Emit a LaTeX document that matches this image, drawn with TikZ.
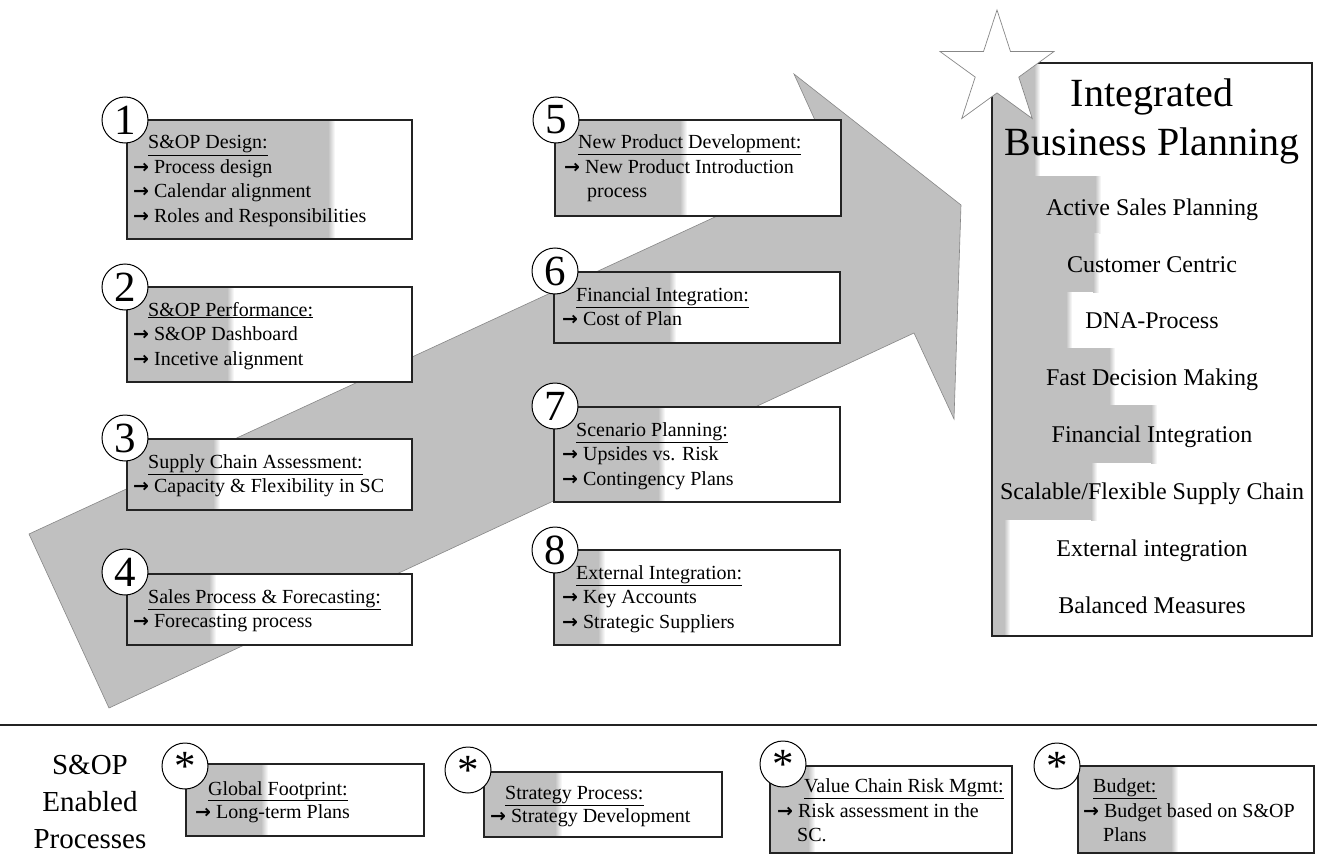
\documentclass[tikz,border=0pt]{standalone}
\usepackage{fontspec}
\setmainfont{Liberation Serif}
\newfontfamily\arrfont{DejaVu Sans}
\newcommand\rarr{{\arrfont\bfseries\fontsize{19}{20}\selectfont →}\hspace{5pt}}
\usetikzlibrary{shapes.geometric}
\definecolor{agray}{RGB}{192,192,192}
\definecolor{aedge}{RGB}{135,135,135}
\definecolor{bline}{RGB}{35,35,35}
\tikzset{
  boxframe/.style={draw=bline, line width=1.3pt},
  numc/.style={circle, draw=black, line width=1pt, fill=white, minimum size=46pt, inner sep=0pt, font=\fontsize{43}{43}\selectfont},
  txt/.style={anchor=base west, inner sep=0pt, font=\fontsize{20}{24}\selectfont},
  ibp/.style={anchor=base, inner sep=0pt, font=\fontsize{24}{28}\selectfont},
  ibpbig/.style={anchor=base, inner sep=0pt, font=\fontsize{40}{48}\selectfont},
  side/.style={anchor=base, inner sep=0pt, font=\fontsize{29}{36}\selectfont},
}
\newcommand\gbox[5]{%
  \fill[white] (#1,#2) rectangle (#3,#4);
  \fill[agray] (#1,#2) rectangle ({#5-4},#4);
  \shade[left color=agray, right color=white] ({#5-4},#2) rectangle ({#5+3},#4);
  \draw[boxframe] (#1,#2) rectangle (#3,#4);
}
\newcommand\stairrow[3]{%
  \fill[agray] (992,#1) rectangle ({#3-4},#2);
  \shade[left color=agray, right color=white] ({#3-4},#1) rectangle ({#3+2},#2);
}
\begin{document}
\begin{tikzpicture}[x=1pt,y=-1pt]
\useasboundingbox (0,0) rectangle (1317,856);
\fill[white] (0,0) rectangle (1317,856);

% big arrow
\filldraw[fill=agray, draw=aedge, line width=0.6pt]
  (29,534) -- (834,162) -- (794,74) -- (961,205) -- (954,419) -- (914,333) -- (109,708) -- cycle;

% left column
\gbox{127}{120}{412}{239}{332}
\node[txt] (t1a) at (148,149) {\underline{S\&OP Design:}};
\node[txt] (t1b) at (133,173) {\rarr Process design};
\node[txt] (t1c) at (133,197.5) {\rarr Calendar alignment};
\node[txt] (t1d) at (133,222) {\rarr Roles and Responsibilities};

\gbox{127}{287}{412}{382}{231}
\node[txt] (t2a) at (148,316) {\underline{S\&OP Performance:}};
\node[txt] (t2b) at (133,340) {\rarr S\&OP Dashboard};
\node[txt] (t2c) at (133,365) {\rarr Incetive alignment};

\gbox{127}{439}{412}{510}{217}
\node[txt] (t3a) at (148,468) {\underline{Supply Chain Assessment:}};
\node[txt] (t3b) at (133,492) {\rarr Capacity \& Flexibility in SC};

\gbox{127}{574}{412}{645}{213}
\node[txt] (t4a) at (148,603) {\underline{Sales Process \& Forecasting:}};
\node[txt] (t4b) at (133,627) {\rarr Forecasting process};

% middle column
\gbox{555}{120}{841}{216}{684}
\node[txt] (t5a) at (578,149) {\underline{New Product Development:}};
\node[txt] (t5b) at (564,173) {\rarr New Product Introduction};
\node[txt] (t5c) at (587,197) {process};

\gbox{554}{272}{840}{343}{673}
\node[txt] (t6a) at (576,301) {\underline{Financial Integration:}};
\node[txt] (t6b) at (562,325) {\rarr Cost of Plan};

\gbox{554}{407}{840}{502}{662}
\node[txt] (t7a) at (576,436) {\underline{Scenario Planning:}};
\node[txt] (t7b) at (562,460) {\rarr Upsides vs. Risk};
\node[txt] (t7c) at (562,485) {\rarr Contingency Plans};

\gbox{554}{550}{840}{645}{602}
\node[txt] (t8a) at (576,579) {\underline{External Integration:}};
\node[txt] (t8b) at (562,603) {\rarr Key Accounts};
\node[txt] (t8c) at (562,628) {\rarr Strategic Suppliers};

% number circles
\node[numc] (c1) at (125,120) {1};
\node[numc] (c2) at (125,287) {2};
\node[numc] (c3) at (125,438) {3};
\node[numc] (c4) at (125,572) {4};
\node[numc] (c5) at (556,120) {5};
\node[numc] (c6) at (555,271) {6};
\node[numc] (c7) at (555,406) {7};
\node[numc] (c8) at (555,550) {8};

% IBP box
\fill[white] (992,63) rectangle (1312,636);
\stairrow{63}{176}{1038}
\stairrow{176}{233}{1099}
\stairrow{233}{292}{1097}
\stairrow{292}{348}{1070}
\stairrow{348}{405}{1113}
\stairrow{405}{463}{1155}
\stairrow{463}{520}{1095}
\stairrow{520}{636}{1008}
\draw[boxframe] (992,63) rectangle (1312,636);
\node[ibpbig] (i0) at (1152,107) {Integrated};
\node[ibpbig] (i00) at (1152,155) {Business Planning};
\node[ibp] (i1) at (1152,215) {Active Sales Planning};
\node[ibp] (i2) at (1152,272) {Customer Centric};
\node[ibp] (i3) at (1152,328) {DNA-Process};
\node[ibp] (i4) at (1152,385) {Fast Decision Making};
\node[ibp] (i5) at (1152,442) {Financial Integration};
\node[ibp] (i6) at (1152,499) {Scalable/Flexible Supply Chain};
\node[ibp] (i7) at (1152,556) {External integration};
\node[ibp] (i8) at (1152,613) {Balanced Measures};

% star
\node[star, star points=5, star point ratio=2.618, minimum size=120pt, inner sep=0pt, outer sep=0pt, draw=aedge, line width=0.7pt, fill=white] (star) at (997,70) {};

% bottom section
\coordinate (rl) at (0,725);
\coordinate (rr) at (1317,725);
\draw[draw=bline, line width=1.6pt] (rl) -- (rr);
\node[side] (s1) at (90,774) {S\&OP};
\node[side] (s2) at (90,811) {Enabled};
\node[side] (s3) at (90,848) {Processes};

\gbox{186}{764}{424}{836}{265}
\node[txt] (ga) at (208,795) {\underline{Global Footprint:}};
\node[txt] (gb) at (195,818) {\rarr Long-term Plans};

\gbox{484}{772}{722}{837}{559}
\node[txt] (sa) at (505,799) {\underline{Strategy Process:}};
\node[txt] (sb) at (490,822) {\rarr Strategy Development};

\gbox{770}{766}{1012}{853}{812}
\node[txt] (va) at (804,792) {\underline{Value Chain Risk Mgmt:}};
\node[txt] (vb) at (777,817) {\rarr Risk assessment in the};
\node[txt] (vc) at (797,841) {SC.};

\gbox{1078}{766}{1314}{853}{1175}
\node[txt] (ba) at (1093,792) {\underline{Budget:}};
\node[txt] (bb) at (1083,817) {\rarr Budget based on S\&OP};
\node[txt] (bc) at (1103,841) {Plans};

\node[numc] (cg) at (185,766) {*};
\node[numc] (cs) at (468,770) {*};
\node[numc] (cv) at (783,764) {*};
\node[numc] (cb) at (1057,766) {*};
\end{tikzpicture}
\end{document}
